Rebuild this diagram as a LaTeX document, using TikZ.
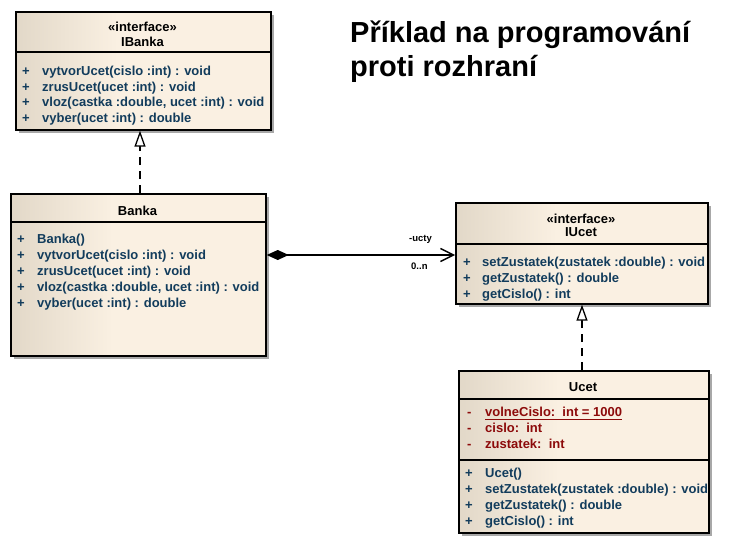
\documentclass[tikz,border=0pt]{standalone}
\usepackage{fontspec}
\setmainfont{Liberation Sans}
\usetikzlibrary{arrows.meta,shadows}
\definecolor{boxL}{HTML}{E2D8C8}
\definecolor{boxR}{HTML}{FAF0E2}
\definecolor{methc}{HTML}{123C5C}
\definecolor{attrc}{HTML}{8C0A0A}
\definecolor{shadowc}{HTML}{A8A8A8}
\pgfdeclarehorizontalshading{umlfill}{100bp}{color(0bp)=(boxL); color(25bp)=(boxL); color(45bp)=(boxR); color(100bp)=(boxR)}
\newcommand\umlfont{\fontsize{13}{15}\selectfont\bfseries}
\newcommand\lblfont{\fontsize{9.5}{11}\selectfont\bfseries}
\newcommand\ttlfont{\fontsize{29}{34}\selectfont\bfseries}
\tikzset{
  umlbox/.style={draw=black, line width=1.7pt, shade, shading=umlfill, anchor=north west,
    inner sep=0pt, drop shadow={shadow xshift=3pt, shadow yshift=-3pt, fill=shadowc, opacity=1}},
  sepline/.style={line width=1.5pt, black},
  head/.style={font=\umlfont, text=black, anchor=center, inner sep=0pt, text height=11pt, text depth=0pt},
  row/.style={font=\umlfont, text=methc, anchor=west, inner sep=0pt, text height=11pt, text depth=0pt},
  arow/.style={row, text=attrc},
  lbl/.style={font=\lblfont, text=black, inner sep=0pt, text height=7pt, text depth=2pt},
  real/.style={line width=1.3pt, dash pattern=on 8pt off 6pt, -{Triangle[fill=white, length=16pt, width=11pt]}},
  comp/.style={line width=1.4pt, {Diamond[length=22pt, width=10pt]}-{Straight Barb[length=13pt, width=13pt]}}
}
\begin{document}
\begin{tikzpicture}[x=1pt, y=-1pt]
\useasboundingbox[fill=white] (0,0) rectangle (756,543);

% ---- IBanka ----
\node[umlbox, minimum width=255pt, minimum height=118pt] (ibanka) at (15,11) {};
\coordinate (ibs) at (0,52);
\draw[sepline] (ibanka.west |- ibs) -- (ibanka.east |- ibs);
\node[head] (ib-st) at (142.5,26) {«interface»};
\node[head] (ib-nm) at (142.5,41) {IBanka};
\node[row] (ib-p1) at (22,70) {+};
\node[row] (ib-m1) at (42,70) {vytvorUcet(cislo :int) : void};
\node[row] (ib-p2) at (22,86) {+};
\node[row] (ib-m2) at (42,86) {zrusUcet(ucet :int) : void};
\node[row] (ib-p3) at (22,101) {+};
\node[row] (ib-m3) at (42,101) {vloz(castka :double, ucet :int) : void};
\node[row] (ib-p4) at (22,117) {+};
\node[row] (ib-m4) at (42,117) {vyber(ucet :int) : double};

% ---- Banka ----
\node[umlbox, minimum width=255pt, minimum height=162pt] (banka) at (10,193) {};
\coordinate (bs) at (0,222);
\draw[sepline] (banka.west |- bs) -- (banka.east |- bs);
\node[head] (b-nm) at (137.5,210) {Banka};
\node[row] (b-p1) at (17,238) {+};
\node[row] (b-m1) at (37,238) {Banka()};
\node[row] (b-p2) at (17,254) {+};
\node[row] (b-m2) at (37,254) {vytvorUcet(cislo :int) : void};
\node[row] (b-p3) at (17,270) {+};
\node[row] (b-m3) at (37,270) {zrusUcet(ucet :int) : void};
\node[row] (b-p4) at (17,286) {+};
\node[row] (b-m4) at (37,286) {vloz(castka :double, ucet :int) : void};
\node[row] (b-p5) at (17,302) {+};
\node[row] (b-m5) at (37,302) {vyber(ucet :int) : double};

% ---- IUcet ----
\node[umlbox, minimum width=252pt, minimum height=101pt] (iucet) at (455,202) {};
\coordinate (ius) at (0,244);
\draw[sepline] (iucet.west |- ius) -- (iucet.east |- ius);
\node[head] (iu-st) at (581,218) {«interface»};
\node[head] (iu-nm) at (581,231) {IUcet};
\node[row] (iu-p1) at (463,261) {+};
\node[row] (iu-m1) at (482,261) {setZustatek(zustatek :double) : void};
\node[row] (iu-p2) at (463,277) {+};
\node[row] (iu-m2) at (482,277) {getZustatek() : double};
\node[row] (iu-p3) at (463,293) {+};
\node[row] (iu-m3) at (482,293) {getCislo() : int};

% ---- Ucet ----
\node[umlbox, minimum width=250pt, minimum height=162pt] (ucet) at (458,370) {};
\coordinate (us1) at (0,399);
\coordinate (us2) at (0,460);
\draw[sepline] (ucet.west |- us1) -- (ucet.east |- us1);
\draw[sepline] (ucet.west |- us2) -- (ucet.east |- us2);
\node[head] (u-nm) at (583,386) {Ucet};
\node[arow] (u-d1) at (467,411) {-};
\node[arow] (u-a1) at (485,411) {volneCislo:\ \ int = 1000};
\draw[attrc, line width=1.2pt] ([yshift=-3pt]u-a1.base west) -- ([yshift=-3pt]u-a1.base east);
\node[arow] (u-d2) at (467,427) {-};
\node[arow] (u-a2) at (485,427) {cislo:\ \ int};
\node[arow] (u-d3) at (467,443) {-};
\node[arow] (u-a3) at (485,443) {zustatek:\ \ int};
\node[row] (u-p1) at (465,472) {+};
\node[row] (u-m1) at (485,472) {Ucet()};
\node[row] (u-p2) at (465,488) {+};
\node[row] (u-m2) at (485,488) {setZustatek(zustatek :double) : void};
\node[row] (u-p3) at (465,504) {+};
\node[row] (u-m3) at (485,504) {getZustatek() : double};
\node[row] (u-p4) at (465,520) {+};
\node[row] (u-m4) at (485,520) {getCislo() : int};

% ---- connectors ----
\coordinate (r1) at (140,0);
\coordinate (r2) at (582,0);
\coordinate (cy) at (0,255);
\draw[real] (banka.north -| r1) -- (ibanka.south -| r1);
\draw[real] (ucet.north -| r2) -- (iucet.south -| r2);
\draw[comp] (banka.east |- cy) -- (iucet.west |- cy);
\node[lbl, anchor=east] (role) at (432,239) {-ucty};
\node[lbl, anchor=west] (mult) at (411,267) {0..n};

% ---- title ----
\node[font=\ttlfont, anchor=base west, inner sep=0pt] (title1) at (350,43) {Příklad na programování};
\node[font=\ttlfont, anchor=base west, inner sep=0pt] (title2) at (350,77) {proti rozhraní};
\end{tikzpicture}
\end{document}
